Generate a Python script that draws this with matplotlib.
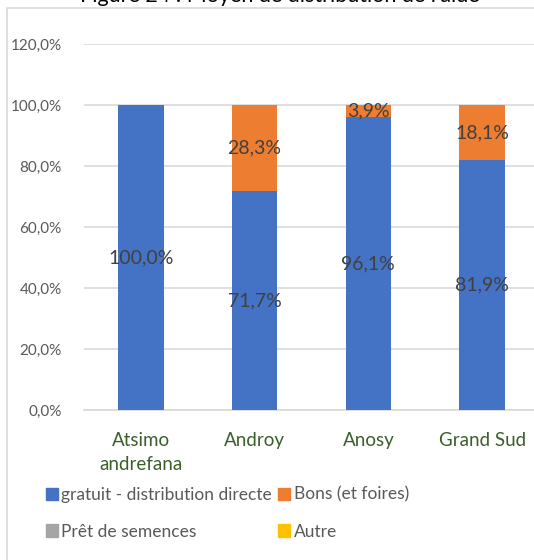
import matplotlib.pyplot as plt
from matplotlib.patches import Rectangle, Patch
import numpy as np

plt.rcParams['font.family'] = ['Lato', 'DejaVu Sans']

categories = ["Atsimo\nandrefana", "Androy", "Anosy", "Grand Sud"]
series_names = ["gratuit - distribution directe", "Bons (et foires)", "Prêt de semences", "Autre"]
gratuit = [100.0, 71.7, 96.1, 81.9]
bons = [0.0, 28.3, 3.9, 18.1]
pret = [0.0, 0.0, 0.0, 0.0]
autre = [0.0, 0.0, 0.0, 0.0]
colors = ["#4472C4", "#ED7D31", "#A5A5A5", "#FFC000"]
yticks = [0, 20, 40, 60, 80, 100, 120]

W, H = 534, 560
fig = plt.figure(figsize=(W / 100, H / 100), dpi=100)

# outer chart frame
fig.patches.append(Rectangle((7 / W, -0.1), 1.2, (H - 8) / H + 0.1, transform=fig.transFigure,
                             fill=False, edgecolor="#D9D9D9", linewidth=1.2))

# title (partially above the canvas)
fig.text(280 / W, 1 - (-4) / H, "Figure 24 : Moyen de distribution de l'aide",
         ha="center", va="center", fontsize=15.5, color="#000000")

left, right = 84, 539
top, bottom = 44, 410
ax = fig.add_axes([left / W, 1 - bottom / H, (right - left) / W, (bottom - top) / H])

x = np.arange(len(categories))
width = 0.4
series = [gratuit, bons, pret, autre]
base = np.zeros(len(categories))
for vals, name, col in zip(series, series_names, colors):
    vals = np.array(vals)
    ax.bar(x, vals, width, bottom=base, color=col, label=name, zorder=3)
    for xi, b, v in zip(x, base, vals):
        if v > 0 and col in ("#4472C4", "#ED7D31"):
            ax.text(xi, b + v / 2, f"{v:.1f}%".replace(".", ","), ha="center", va="center",
                    fontsize=14, color="#404040", zorder=4)
    base = base + vals

ax.set_xlim(-0.5, len(categories) - 0.5)
ax.set_ylim(0, 120)
ax.set_yticks(yticks)
ax.set_yticklabels([f"{t:.1f}%".replace(".", ",") for t in yticks], fontsize=11, color="#595959")
ax.set_xticks(x)
ax.set_xticklabels(categories, fontsize=13.5, color="#3B5E2B", linespacing=1.45)
ax.tick_params(axis="both", length=0)
ax.tick_params(axis="y", pad=16)
ax.tick_params(axis="x", pad=16)
ax.grid(axis="y", color="#D9D9D9", linewidth=1.2, zorder=0)
for s in ["top", "right", "left"]:
    ax.spines[s].set_visible(False)
ax.spines["bottom"].set_color("#D9D9D9")
ax.spines["bottom"].set_linewidth(1.2)

handles = [Patch(color=c) for c in colors]
order = [0, 2, 1, 3]
fig.legend([handles[i] for i in order], [series_names[i] for i in order],
           loc="upper left", bbox_to_anchor=(30 / W, 1 - 471 / H), ncol=2, frameon=False,
           fontsize=12.5, labelcolor="#595959", handlelength=0.7, handleheight=0.7,
           handletextpad=0.2, columnspacing=0.35, labelspacing=1.2)

fig.savefig("out.png", dpi=100)
